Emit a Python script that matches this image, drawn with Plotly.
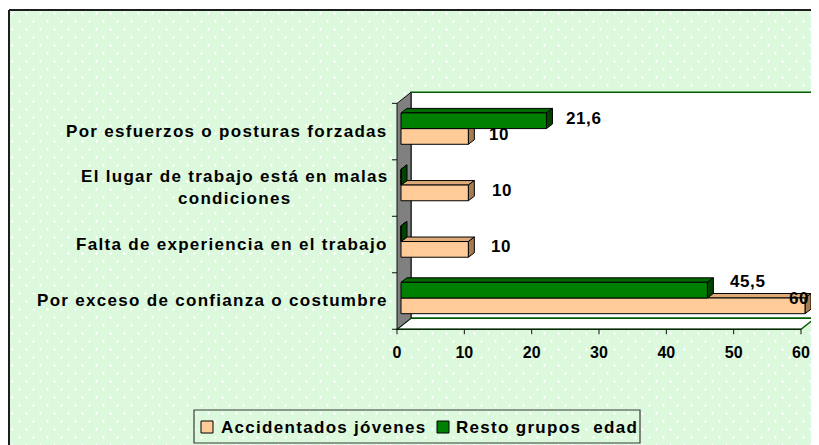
import base64
import plotly.graph_objects as go

# ---------------- data ----------------
categories = [
    "Por exceso de confianza o costumbre",
    "Falta de experiencia en el trabajo",
    "El lugar de trabajo está en malas<br>condiciones",
    "Por esfuerzos o posturas forzadas",
]
series_names = ["Accidentados jóvenes", "Resto grupos\u00a0 edad"]
jovenes = [60, 10, 10, 10]
resto = [45.5, 0, 0, 21.6]
x_ticks = [0, 10, 20, 30, 40, 50, 60]

# ---------------- styles / geometry ----------------
OFF = 8                                       # page body margin of the html page
W, H = 819 - OFF, 445 - OFF                   # figure size
VIS_R = 810                                   # last visible page column
# the constants below are page pixels
PL, PR, PT, PB = 397, 816, 92, 329            # plot area
X0PX, XK = 401, 404 / 60                      # bar-plane pixel of x=0, px per unit
YC0, YK = 298, 56.47                          # bar-plane pixel of category 0, px per category
FRONT = (-4, 3)                               # front edge offset from bar plane (px)
DEPTH = (14, -11)                             # floor/wall depth (px)
BAR_D = (6, -4.5)                             # bar extrusion (px)
bw = 0.278                                    # single bar thickness (category units)

front_col = ["#FFCC99", "#008000"]
top_col = ["#DDAA78", "#006A00"]
side_col = ["#A57B52", "#004400"]
TXT = "Liberation Sans"
LS = 1.3

# per-label pixel nudges (series, category) -> (dx, dy up); default applied otherwise
label_nudge = {(1, 0): (21.6, 9), (0, 1): (22, 2.7),
               (0, 2): (23, 2.9), (0, 3): (19.5, 2.4), (1, 3): (18.5, 2.7)}
# labels that would run past the visible edge are right-aligned to it instead
edge_labels = {(0, 0): 7.5}

x_range = [(PL - X0PX) / XK, (PR - X0PX) / XK]
y_range = [(YC0 - PB) / YK, (YC0 - PT) / YK]


def px(v):
    return X0PX + v * XK


def py(c):
    return YC0 - c * YK


def fx(p):
    return (p - PL) / (PR - PL)


def fy(p):
    return (PB - p) / (PB - PT)


def spaced(t, ls=LS):
    return "<br>".join(f'<span style="letter-spacing:{ls}px">{ln}</span>' for ln in t.split("<br>"))


def ppath(pts):
    return "M" + " L".join(f"{fx(a):.5f},{fy(b):.5f}" for a, b in pts) + " Z"


fig = go.Figure()
ypos = list(range(len(categories)))
for s, (name, vals) in enumerate(zip(series_names, [jovenes, resto])):
    fig.add_trace(go.Bar(
        y=ypos, x=vals, name=name, orientation="h",
        marker=dict(color=front_col[s], line=dict(color="black", width=1)),
        showlegend=False, hoverinfo="x+name",
    ))

shapes = []
annotations = []

# background pattern image
svg = (
    "<svg xmlns='http://www.w3.org/2000/svg' width='809' height='434'>"
    "<defs><pattern id='p' width='14' height='16' patternUnits='userSpaceOnUse'>"
    "<rect width='14' height='16' fill='#DDF9DD'/>"
    "<path d='M1,2h3v1h-3z M2,1h1v3h-1z M8,10h3v1h-3z M9,9h1v3h-1z' fill='#FFFFFF'/>"
    "</pattern></defs><rect width='809' height='434' fill='url(#p)'/></svg>"
)
src = "data:image/svg+xml;base64," + base64.b64encode(svg.encode()).decode()
images = [dict(source=src, xref="paper", yref="paper", x=fx(10), y=fy(11),
               sizex=809 / (PR - PL), sizey=434 / (PB - PT), xanchor="left", yanchor="top",
               sizing="stretch", layer="below")]

# chart frame
shapes.append(dict(type="line", xref="paper", yref="paper", x0=fx(9), x1=fx(830), y0=fy(10), y1=fy(10),
                   line=dict(color="#1E1E1E", width=2)))
shapes.append(dict(type="line", xref="paper", yref="paper", x0=fx(9), x1=fx(9), y0=fy(10), y1=fy(460),
                   line=dict(color="#1E1E1E", width=2)))

# 3D box: front edge coordinates derived from axes
fx0 = px(x_ticks[0]) + FRONT[0]
fx60 = px(x_ticks[-1]) + FRONT[0]
ftop = py(len(categories) - 0.5) + FRONT[1]
fbot = py(-0.5) + FRONT[1]
dx, dy = DEPTH
# back wall
shapes.append(dict(type="path", xref="paper", yref="paper", layer="below",
                   path=ppath([(fx0 + dx, ftop + dy), (PR - 1, ftop + dy), (PR - 1, fbot + dy), (fx0 + dx, fbot + dy)]),
                   fillcolor="white", line=dict(color="#005A00", width=1.5)))
# floor
shapes.append(dict(type="path", xref="paper", yref="paper", layer="below",
                   path=ppath([(fx0, fbot), (fx60, fbot), (fx60 + dx, fbot + dy), (fx0 + dx, fbot + dy)]),
                   fillcolor="white", line=dict(color="#005A00", width=1.5)))
shapes.append(dict(type="line", xref="paper", yref="paper", layer="below",
                   x0=fx(fx0), x1=fx(fx60), y0=fy(fbot), y1=fy(fbot), line=dict(color="#111111", width=1.2)))
# left wall
shapes.append(dict(type="path", xref="paper", yref="paper", layer="below",
                   path=ppath([(fx0, ftop), (fx0 + dx, ftop + dy), (fx0 + dx, fbot + dy), (fx0, fbot)]),
                   fillcolor="#808080", line=dict(color="#111111", width=1)))
# y tick marks
for b in range(len(categories) + 1):
    yy = py(b - 0.5) + FRONT[1]
    shapes.append(dict(type="line", xref="paper", yref="paper", x0=fx(fx0 - 5), x1=fx(fx0), y0=fy(yy), y1=fy(yy),
                       line=dict(color="#111111", width=1)))
# x tick marks
for v in x_ticks:
    xx = px(v) + FRONT[0]
    shapes.append(dict(type="line", xref="paper", yref="paper", x0=fx(xx), x1=fx(xx), y0=fy(fbot), y1=fy(fbot + 5),
                       line=dict(color="#111111", width=1)))

# bar extrusions (below traces, inside subplot)
ddx, ddy = BAR_D[0] / XK, -BAR_D[1] / YK
for s, vals in enumerate([jovenes, resto]):
    off = (s - 0.5) * bw
    for i, v in enumerate(vals):
        yb, yt = i + off - bw / 2, i + off + bw / 2
        shapes.append(dict(type="path", xref="x", yref="y", layer="below",
                           path=f"M0,{yt} L{v},{yt} L{v + ddx},{yt + ddy} L{ddx},{yt + ddy} Z",
                           fillcolor=top_col[s], line=dict(color="black", width=1)))
        shapes.append(dict(type="path", xref="x", yref="y", layer="below",
                           path=f"M{v},{yb} L{v},{yt} L{v + ddx},{yt + ddy} L{v + ddx},{yb + ddy} Z",
                           fillcolor=side_col[s], line=dict(color="black", width=1)))
        if v > 0:
            label = spaced(f"{v:g}".replace(".", ","), 0.6)
            lfont = dict(family=TXT, size=17, color="black", weight="bold")
            if (s, i) in edge_labels:
                ndy = edge_labels[(s, i)]
                annotations.append(dict(
                    x=fx(VIS_R), y=fy(py(i + off) - ndy), xref="paper", yref="paper",
                    showarrow=False, xanchor="right", yanchor="middle", borderpad=0,
                    text=label, font=lfont))
            else:
                ndx, ndy = label_nudge.get((s, i), (21, 3))
                annotations.append(dict(
                    x=fx(px(v) + ndx), y=fy(py(i + off) - ndy), xref="paper", yref="paper",
                    showarrow=False, xanchor="left", yanchor="middle", borderpad=0,
                    text=label, font=lfont))

# category labels
for i, c in enumerate(categories):
    annotations.append(dict(
        x=fx(390), y=i, xref="paper", yref="y", showarrow=False, xanchor="right", yanchor="middle",
        yshift=-2.5, align="center", text=spaced(c),
        font=dict(family=TXT, size=17, color="black", weight="bold")))

# legend (drawn manually to match layout)
shapes.append(dict(type="rect", xref="paper", yref="paper", x0=fx(194), x1=fx(640), y0=fy(410), y1=fy(443),
                   line=dict(color="#3A3A3A", width=1.2)))
leg_x = [(201, 219), (437, 454)]
for s, name in enumerate(series_names):
    sx, tx = leg_x[s]
    shapes.append(dict(type="rect", xref="paper", yref="paper", x0=fx(sx), x1=fx(sx + 12), y0=fy(421), y1=fy(433),
                       fillcolor=front_col[s], line=dict(color="black", width=1)))
    annotations.append(dict(
        x=fx(tx), y=fy(427), xref="paper", yref="paper", showarrow=False, xanchor="left", yanchor="middle",
        text=spaced(name), font=dict(family=TXT, size=17, color="black", weight="bold")))

fig.update_layout(
    width=W, height=H,
    margin=dict(l=PL - OFF, r=W - (PR - OFF), t=PT - OFF, b=H - (PB - OFF), pad=0),
    paper_bgcolor="white", plot_bgcolor="rgba(0,0,0,0)",
    barmode="group", bargap=1 - 2 * bw, bargroupgap=0,
    showlegend=False,
    xaxis=dict(range=x_range, tickvals=x_ticks, ticktext=[str(t) for t in x_ticks],
               showgrid=False, zeroline=False, showline=False, ticks="",
               ticklabelshift=FRONT[0], ticklabelstandoff=12,
               tickfont=dict(family=TXT, size=16, color="black", weight="bold")),
    yaxis=dict(range=y_range, showgrid=False, zeroline=False, showline=False, ticks="",
               showticklabels=False),
    shapes=shapes, annotations=annotations, images=images,
)

fig.write_html("out.html")
